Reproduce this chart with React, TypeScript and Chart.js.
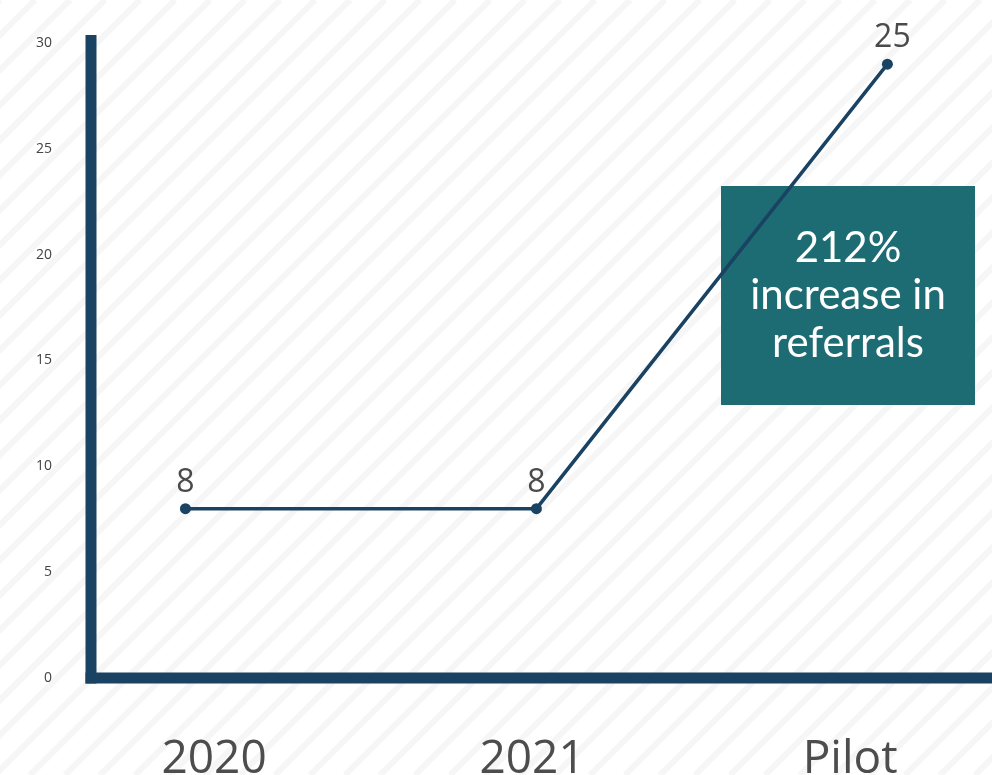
import React, { useEffect, useRef } from "react";
import { Chart, registerables } from "chart.js";

Chart.register(...registerables);

// ---- data ----
const categories = ["2020", "2021", "Pilot"];
const referrals = [8, 8, 29];
const pointLabels = ["8", "8", "25"];
const yTicks = [0, 5, 10, 15, 20, 25, 30];
const calloutLines = ["212%", "increase in", "referrals"];

// ---- styles ----
const NAVY = "#1a4263";
const TEAL = "#1d6b73";
const W = 992;
const H = 775;

const stripesPlugin = {
  id: "stripes",
  beforeDraw(chart: any) {
    const ctx = chart.ctx;
    ctx.save();
    ctx.fillStyle = "#ffffff";
    ctx.fillRect(0, 0, chart.width, chart.height);
    ctx.strokeStyle = "#f6f6f6";
    ctx.lineWidth = 6;
    const step = 35;
    for (let k = -chart.height; k < chart.width + step; k += step) {
      ctx.beginPath();
      ctx.moveTo(k, chart.height);
      ctx.lineTo(k + chart.height, 0);
      ctx.stroke();
    }
    ctx.restore();
  },
};

const axesAndCalloutPlugin = {
  id: "axesCallout",
  beforeDatasetsDraw(chart: any) {
    const ctx = chart.ctx;
    const area = chart.chartArea;
    const y0 = chart.scales.y.getPixelForValue(0);
    const t = 11;
    ctx.save();
    ctx.fillStyle = NAVY;
    // vertical axis
    ctx.fillRect(area.left - t / 2, area.top - 8, t, y0 + t / 2 - (area.top - 8));
    // horizontal axis
    ctx.fillRect(area.left - t / 2, y0 - t / 2, chart.width - (area.left - t / 2), t);

    // callout box
    const bx = 721, by = 186, bw = 254, bh = 219;
    ctx.fillStyle = TEAL;
    ctx.fillRect(bx, by, bw, bh);
    ctx.fillStyle = "#ffffff";
    ctx.font = "400 42px Lato";
    ctx.textAlign = "center";
    ctx.textBaseline = "alphabetic";
    const cx = bx + bw / 2;
    const baselines = [262, 309, 357];
    calloutLines.forEach((line, i) => ctx.fillText(line, cx, baselines[i]));
    ctx.restore();
  },
  afterDatasetsDraw(chart: any) {
    const ctx = chart.ctx;
    const meta = chart.getDatasetMeta(0);
    ctx.save();
    ctx.fillStyle = "#4a4a4a";
    ctx.font = "400 32px 'Open Sans'";
    ctx.textAlign = "center";
    ctx.textBaseline = "alphabetic";
    meta.data.forEach((pt: any, i: number) => {
      ctx.fillText(pointLabels[i], pt.x + (i === 2 ? 5 : 0), pt.y - 17);
    });
    ctx.restore();
  },
};

export default function App() {
  const ref = useRef<HTMLCanvasElement | null>(null);

  useEffect(() => {
    if (!ref.current) return;
    const chart = new Chart(ref.current, {
      type: "line",
      data: {
        datasets: [
          {
            data: referrals.map((v, i) => ({ x: i, y: v })),
            xAxisID: "xp",
            yAxisID: "y",
            borderColor: NAVY,
            backgroundColor: NAVY,
            borderWidth: 3.5,
            pointRadius: 5.5,
            pointBackgroundColor: NAVY,
            pointBorderWidth: 0,
            tension: 0,
            fill: false,
          },
        ],
      },
      options: {
        responsive: false,
        animation: false,
        layout: { autoPadding: false, padding: { top: 43, left: 0, right: 0, bottom: 0 } },
        plugins: {
          legend: { display: false },
          tooltip: { enabled: false },
        },
        scales: {
          xp: {
            type: "linear",
            display: false,
            min: -0.269,
            max: 2.298,
          },
          x: {
            type: "linear",
            position: "bottom",
            min: -0.387,
            max: 2.446,
            grid: { display: false, drawTicks: false },
            border: { display: false },
            afterBuildTicks: (s: any) => {
              s.ticks = categories.map((_, i) => ({ value: i }));
            },
            afterFit: (s: any) => {
              s.height = 97;
              s.paddingLeft = 0;
              s.paddingRight = 0;
            },
            ticks: {
              callback: (v: any) => categories[v] ?? "",
              font: { family: "'Open Sans'", size: 46 },
              color: "#4d4d4d",
              padding: 54,
              maxRotation: 0,
              autoSkip: false,
            },
          },
          y: {
            type: "linear",
            min: 0,
            max: 30,
            afterBuildTicks: (s: any) => {
              s.ticks = yTicks.map((v) => ({ value: v }));
            },
            afterFit: (s: any) => {
              s.width = 91;
              s.paddingTop = 0;
              s.paddingBottom = 0;
            },
            grid: { display: false, drawTicks: false },
            border: { display: false },
            ticks: {
              font: { family: "'Open Sans'", size: 14 },
              color: "#444444",
              padding: 39,
            },
          },
        },
      } as any,
      plugins: [stripesPlugin, axesAndCalloutPlugin],
    });
    return () => chart.destroy();
  }, []);

  return (
    <div style={{ position: "absolute", left: 0, top: 0, width: W, height: H }}>
      <canvas ref={ref} width={W} height={H} style={{ display: "block" }} />
    </div>
  );
}
